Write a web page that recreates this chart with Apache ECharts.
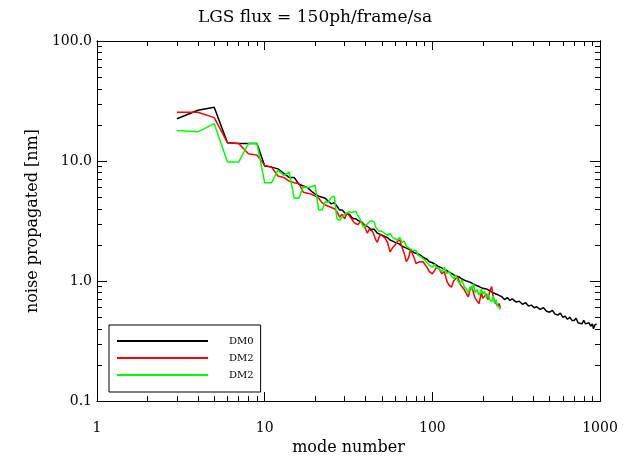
<!DOCTYPE html>
<html>
<head>
<meta charset="utf-8">
<script src="https://cdn.jsdelivr.net/npm/echarts@6/dist/echarts.min.js"></script>
<style>html,body{margin:0;padding:0;background:#fff}#c{width:630px;height:461px}</style>
</head>
<body>
<div id="c"></div>
<script>
const titleText = 'LGS flux = 150ph/frame/sa';
const xName = 'mode number';
const yName = 'noise propagated [nm]';
const xMajor = [1, 10, 100, 1000];
const xMinor = [2,3,4,5,6,7,8,9,20,30,40,50,60,70,80,90,200,300,400,500,600,700,800,900];
const yMajor = [0.1, 1, 10, 100];
const yMinor = [0.2,0.3,0.4,0.5,0.6,0.7,0.8,0.9,2,3,4,5,6,7,8,9,20,30,40,50,60,70,80,90];
const seriesNames = ['DM0', 'DM2', 'DM2 '];
const seriesColors = ['#000000', '#ff0000', '#00ff00'];

const modesDM0 = [3,4,5,6,7,8,9,10,11,12,13,14,15,16,17,18,19,20,21,22,23,24,25,26,27,28,29,30,31,32,33,34,35,36,37,38,39,40,41,42,43,44,45,46,47,48,49,50,
  52,54,56,58,60,63,66,69,72,75,78,81,84,87,90,93,96,
  100,104,108,112,116,120,125,130,135,140,145,150,
  160,170,180,190,200,210,220,230,240,250,260,270,280,290,300,
  315,330,345,360,375,390,405,420,
  440,460,480,500,520,540,560,580,600,620,640,660,680,700,720,740,760,780,800,820,840,860,880,900,
  915,930,945,955];
const noiseDM0 = [22.5,26.5,28.0,14.2,14.0,14.0,14.0,9.1,8.9,8.6,7.9,7.3,7.3,6.4,6.2,6.0,5.6,5.3,5.1,5.0,4.9,4.6,4.4,4.5,4.2,3.9,3.9,3.7,3.6,3.6,3.4,3.3,3.3,3.2,3.1,3.1,2.95,2.9,2.85,2.85,2.7,2.65,2.7,2.6,2.5,2.5,2.45,2.45,
  2.35,2.3,2.2,2.15,2.1,2.05,1.95,1.9,1.85,1.8,1.72,1.7,1.66,1.6,1.55,1.52,1.45,
  1.42,1.38,1.33,1.3,1.27,1.24,1.2,1.16,1.12,1.1,1.08,1.04,
  1.0,0.97,0.93,0.9,0.87,0.86,0.83,0.8,0.78,0.76,0.74,0.70,0.73,0.69,0.71,
  0.67,0.68,0.64,0.66,0.62,0.63,0.60,0.61,
  0.58,0.60,0.56,0.55,0.57,0.53,0.52,0.54,0.50,0.51,0.48,0.50,0.47,0.47,0.49,0.45,0.46,0.44,0.47,0.44,0.43,0.45,0.42,0.44,
  0.40,0.43,0.42,0.44];

const modesDM2 = [3,4,5,6,7,8,9,10,11,12,13,14,15,16,17,18,19,20,21,22,23,24,25,26,27,28,29,30,31,32,33,34,35,36,37,38,39,40,41,42,43,44,45,46,47,48,49,50,
  52,54,56,58,60,62,64,66,68,70,72,74,76,78,80,82,84,86,88,90,
  93,96,100,103,106,110,114,118,122,126,130,134,138,142,146,150,155,160,164,168,172,176,180,185,190,196,200,205,210,215,220,226,230,235,240,245,250,255];
const noiseDM2red = [25.5,25.5,23.0,14.2,14.0,11.5,11.2,9.2,8.9,7.5,7.3,6.8,6.6,6.5,5.5,5.4,5.3,5.1,4.9,4.5,4.3,4.2,4.1,4.0,3.8,3.4,3.6,3.3,3.7,3.5,3.3,3.1,3.0,2.95,3.1,3.15,3.0,2.7,2.5,2.7,2.8,2.6,2.4,2.2,2.1,2.3,2.45,2.4,
  2.3,2.1,1.75,1.9,2.0,2.15,2.2,1.9,1.7,1.45,1.55,1.8,1.7,1.55,1.4,1.35,1.45,1.5,1.45,1.48,
  1.3,1.2,1.15,1.22,1.3,1.25,1.15,1.2,1.0,0.92,0.89,1.0,1.05,1.08,0.95,0.9,0.85,0.78,0.74,0.85,0.9,0.8,0.72,0.68,0.65,0.8,0.72,0.7,0.78,0.7,0.82,0.9,0.75,0.68,0.7,0.62,0.65,0.6];
const noiseDM2green = [18.0,17.5,20.5,9.8,9.8,14.0,14.0,6.6,6.6,8.4,7.6,8.1,4.9,4.9,6.1,6.0,6.1,6.3,3.9,3.9,4.6,4.5,5.0,5.1,3.3,3.2,3.4,3.6,3.7,3.8,3.7,3.8,3.8,3.5,3.3,3.0,2.8,2.9,3.0,3.1,3.2,3.15,3.1,2.8,2.7,2.6,2.55,2.6,
  2.5,2.4,2.5,2.3,2.25,2.2,2.3,2.1,2.15,1.95,1.9,1.95,1.8,1.75,1.8,1.65,1.7,1.58,1.55,1.5,
  1.42,1.35,1.3,1.38,1.3,1.25,1.2,1.3,1.15,1.2,1.1,1.05,1.12,1.0,0.95,1.02,0.9,0.85,0.79,0.9,0.85,0.95,0.8,0.85,0.76,0.86,0.78,0.82,0.72,0.78,0.7,0.67,0.75,0.65,0.7,0.62,0.64,0.58];

function pairs(xs, ys) { return xs.map((x, i) => [x, ys[i]]); }

const FONT = 'DejaVu Serif';
const chart = echarts.init(document.getElementById('c'), null, {renderer: 'canvas'});

function xAxisDef(pos, ticks, len, labels) {
  return {
    type: 'log', logBase: 10, min: 1, max: 1000, position: pos, gridIndex: 0,
    name: labels ? xName : '', nameLocation: 'middle', nameGap: 37,
    nameTextStyle: {fontFamily: FONT, fontSize: 16, color: '#000'},
    axisLine: {show: true, lineStyle: {color: '#000', width: 1}},
    axisTick: {show: true, inside: true, length: len, customValues: ticks, lineStyle: {color: '#000', width: 1}},
    axisLabel: {show: labels, customValues: labels ? xMajor : undefined, margin: 20, fontFamily: FONT, fontSize: 14, color: '#000',
      formatter: v => String(Math.round(v))},
    splitLine: {show: false}, minorTick: {show: false}
  };
}
function yAxisDef(pos, ticks, len, labels) {
  return {
    type: 'log', logBase: 10, min: 0.1, max: 100, position: pos, gridIndex: 0,
    name: labels ? yName : '', nameLocation: 'middle', nameGap: 55,
    nameTextStyle: {fontFamily: FONT, fontSize: 16, color: '#000'},
    axisLine: {show: true, lineStyle: {color: '#000', width: 1}},
    axisTick: {show: true, inside: true, length: len, customValues: ticks, lineStyle: {color: '#000', width: 1}},
    axisLabel: {show: labels, customValues: labels ? yMajor : undefined, margin: 5, fontFamily: FONT, fontSize: 14, color: '#000',
      formatter: v => v.toFixed(1)},
    splitLine: {show: false}, minorTick: {show: false}
  };
}

const option = {
  backgroundColor: '#fff',
  animation: false,
  title: {text: titleText, left: 'center', top: 4, textStyle: {fontFamily: FONT, fontSize: 17, fontWeight: 'normal', color: '#000'}},
  grid: {left: 97, right: 30, top: 41, bottom: 55, containLabel: false},
  xAxis: [
    xAxisDef('bottom', xMajor, 9, true),
    xAxisDef('bottom', xMinor, 5, false),
    xAxisDef('top', xMajor, 9, false),
    xAxisDef('top', xMinor, 5, false)
  ],
  yAxis: [
    yAxisDef('left', yMajor, 10, true),
    yAxisDef('left', yMinor, 5, false),
    yAxisDef('right', yMajor, 10, false),
    yAxisDef('right', yMinor, 5, false)
  ],
  legend: {
    orient: 'vertical', left: 109, top: 325,
    data: seriesNames,
    icon: 'rect', itemWidth: 91, itemHeight: 2, itemGap: 7,
    padding: [11, 7, 12, 8],
    borderColor: '#000', borderWidth: 1, backgroundColor: '#fff',
    formatter: n => n.trim(),
    textStyle: {fontFamily: FONT, fontSize: 10, color: '#000', padding: [0, 0, 0, 16]}
  },
  series: [
    {name: seriesNames[0], type: 'line', data: pairs(modesDM0, noiseDM0), symbol: 'none', xAxisIndex: 0, yAxisIndex: 0,
      lineStyle: {color: seriesColors[0], width: 1.5}, itemStyle: {color: seriesColors[0]}},
    {name: seriesNames[1], type: 'line', data: pairs(modesDM2, noiseDM2red), symbol: 'none', xAxisIndex: 0, yAxisIndex: 0,
      lineStyle: {color: seriesColors[1], width: 1.5}, itemStyle: {color: seriesColors[1]}},
    {name: seriesNames[2], type: 'line', data: pairs(modesDM2, noiseDM2green), symbol: 'none', xAxisIndex: 0, yAxisIndex: 0,
      lineStyle: {color: seriesColors[2], width: 1.5}, itemStyle: {color: seriesColors[2]}}
  ]
};
chart.setOption(option);
</script>
</body>
</html>
